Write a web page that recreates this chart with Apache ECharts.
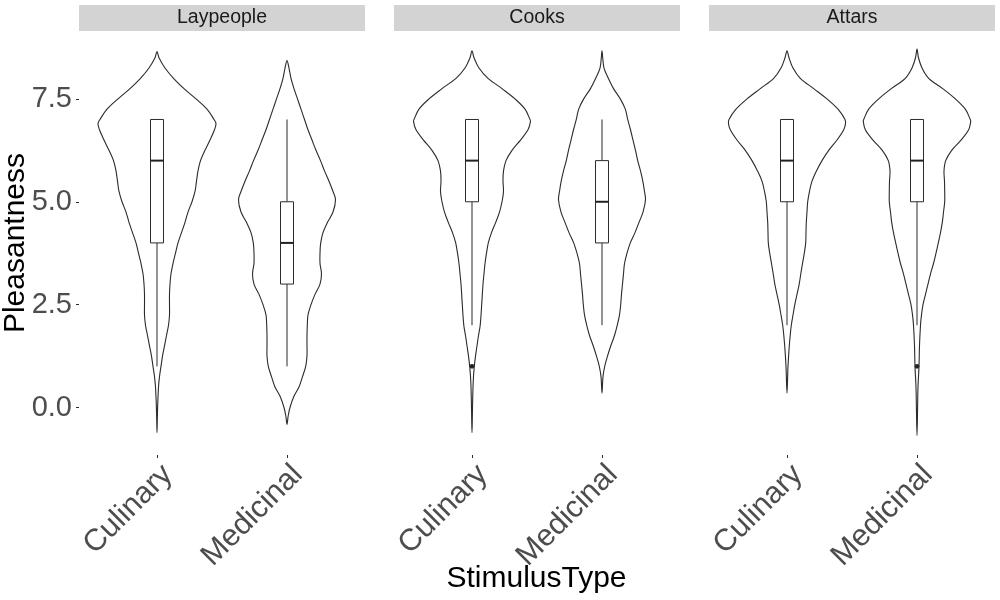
<!DOCTYPE html>
<html>
<head>
<meta charset="utf-8">
<script src="https://cdn.jsdelivr.net/npm/echarts@6/dist/echarts.min.js"></script>
<style>html,body{margin:0;padding:0;background:#fff}#chart{width:1000px;height:600px}</style>
</head>
<body>
<div id="chart"></div>
<script>
// ---------------- data ----------------
const panels = ['Laypeople', 'Cooks', 'Attars'];
const categories = ['Culinary', 'Medicinal'];
const yTicks = [0, 2.5, 5, 7.5];
const xTitle = 'StimulusType';
const yTitle = 'Pleasantness';

// violin outlines: [Pleasantness, relative density] (top to bottom)
const layCulinaryDensity = [[8.65,0],[8.5,2],[8.25,8],[8.0,16.5],[7.75,27],[7.5,39],[7.25,50],[7.0,57],[6.9,59],[6.75,57.5],[6.5,53],[6.25,48],[6.0,43.5],[5.75,41],[5.5,39.5],[5.25,38],[5.0,35],[4.75,31],[4.5,28],[4.25,24.5],[4.0,21],[3.75,18.5],[3.5,16],[3.25,14],[3.0,13],[2.75,12.5],[2.5,12.5],[2.25,12.5],[2.0,11.5],[1.75,9.5],[1.5,7.5],[1.25,5.5],[1.0,4],[0.75,2.5],[0.5,1.5],[0.25,1],[0,0.6],[-0.3,0.3],[-0.61,0]];
const layMedicinalDensity = [[8.43,0],[8.25,2],[8.0,4],[7.75,7],[7.5,10.5],[7.25,14],[7.0,17.5],[6.75,21],[6.5,25],[6.25,29],[6.0,33.5],[5.75,37.5],[5.5,42],[5.25,46],[5.05,48.5],[4.75,46],[4.5,40.5],[4.25,36],[4.0,33.7],[3.75,33],[3.5,33],[3.25,34.5],[3.0,33],[2.75,28],[2.5,24],[2.25,21],[2.0,20.3],[1.75,20],[1.5,20],[1.25,20],[1.0,18.7],[0.75,15.5],[0.5,12],[0.25,6.5],[0.0,3],[-0.2,1.2],[-0.41,0]];
const cooksCulinaryDensity = [[8.67,0],[8.5,2],[8.25,7],[8.0,16],[7.75,30],[7.5,43],[7.25,53],[7.0,58],[6.95,58.5],[6.75,56],[6.5,48.5],[6.25,40],[6.0,34],[5.75,31.5],[5.5,31],[5.25,31.5],[5.0,30],[4.75,27.5],[4.5,23.7],[4.25,19.5],[4.0,16.3],[3.75,14.5],[3.5,13],[3.25,12],[3.0,11],[2.5,9.7],[2.0,8.2],[1.75,6.5],[1.5,5],[1.25,3.5],[1.0,2.3],[0.75,1.5],[0.5,1],[0,0.5],[-0.3,0.3],[-0.61,0]];
const cooksMedicinalDensity = [[8.67,0],[8.5,0.7],[8.25,2],[8.0,6.3],[7.75,11.5],[7.5,18.3],[7.25,23.3],[7.0,25.7],[6.75,28.5],[6.5,31],[6.25,33.5],[6.0,35.7],[5.75,38.5],[5.5,40.8],[5.25,42.5],[5.05,43.5],[4.75,41],[4.5,37],[4.25,33],[4.0,28.3],[3.75,25],[3.5,22.5],[3.25,21.5],[3.0,20.5],[2.75,19.5],[2.5,18.7],[2.25,17.5],[2.0,15.3],[1.75,12.5],[1.5,8.8],[1.25,5.5],[1.0,2.7],[0.75,1],[0.35,0]];
const attarsCulinaryDensity = [[8.67,0],[8.5,2],[8.25,6],[8.0,13.3],[7.75,26.7],[7.5,40],[7.25,51],[7.0,58],[6.9,58.5],[6.75,56.7],[6.5,50],[6.25,41.7],[6.0,35],[5.75,29.5],[5.5,25],[5.25,22.5],[5.0,20.7],[4.75,20],[4.5,19.3],[4.25,19],[4.0,18.7],[3.75,17.3],[3.5,15.5],[3.25,13.8],[3.0,12.2],[2.75,10],[2.5,7.8],[2.25,6],[2.0,4.3],[1.75,3.2],[1.5,2.3],[1.0,1],[0.35,0]];
const attarsMedicinalDensity = [[8.71,0],[8.5,1.5],[8.25,5],[8.0,11.7],[7.75,25.7],[7.5,38.3],[7.25,48.3],[7.0,53.3],[6.95,53.7],[6.75,51.7],[6.5,44],[6.25,34.7],[6.0,28.7],[5.75,27],[5.5,27.5],[5.25,27.7],[5.0,27.7],[4.75,26.5],[4.5,25.3],[4.25,23.5],[4.0,21.3],[3.75,19],[3.5,16.5],[3.25,13.5],[3.0,11],[2.75,8.5],[2.5,6],[2.25,4.5],[2.0,3.5],[1.5,2.5],[1.0,2],[0.5,1],[0.0,0.6],[-0.68,0]];

// boxplot stats: [lower whisker, Q1, median, Q3, upper whisker]
const layCulinaryBox = [1, 4, 6, 7, 7];
const layMedicinalBox = [1, 3, 4, 5, 7];
const cooksCulinaryBox = [2, 5, 6, 7, 7];
const cooksMedicinalBox = [2, 4, 5, 6, 7];
const attarsCulinaryBox = [2, 5, 6, 7, 7];
const attarsMedicinalBox = [2, 5, 6, 7, 7];

const layCulinaryOutliers = [];
const layMedicinalOutliers = [];
const cooksCulinaryOutliers = [1];
const cooksMedicinalOutliers = [];
const attarsCulinaryOutliers = [];
const attarsMedicinalOutliers = [1];

// ---------------- assembly ----------------
const violins = [
  [layCulinaryDensity, layMedicinalDensity],
  [cooksCulinaryDensity, cooksMedicinalDensity],
  [attarsCulinaryDensity, attarsMedicinalDensity]
];
const boxes = [
  [layCulinaryBox, layMedicinalBox],
  [cooksCulinaryBox, cooksMedicinalBox],
  [attarsCulinaryBox, attarsMedicinalBox]
];
const outliers = [
  [layCulinaryOutliers, layMedicinalOutliers],
  [cooksCulinaryOutliers, cooksMedicinalOutliers],
  [attarsCulinaryOutliers, attarsMedicinalOutliers]
];

const FONT = '"Liberation Sans", Arial, Helvetica, sans-serif';
const LINE = '#2b2b2b';
const DENSITY_PER_BAND = 130; // relative density units per category band
const BOX_WIDTH = 0.1;        // fraction of band

const panelLeft = [79, 394, 709];
const panelWidth = 286;
const gridInset = 13;
const gridTop = 31, gridHeight = 424;

function renderItem(params, api) {
  const cat = api.value(0);
  const p = api.value(1);
  const band = api.size([1, 0])[0];
  const s = band / DENSITY_PER_BAND;
  const cx = api.coord([cat, 0])[0];
  const dens = violins[p][cat];
  const right = dens.map(([y, d]) => [cx + d * s, api.coord([cat, y])[1]]);
  const left = dens.slice(1, -1).reverse().map(([y, d]) => [cx - d * s, api.coord([cat, y])[1]]);
  const children = [];
  children.push({
    type: 'polygon',
    shape: { points: right.concat(left), smooth: 0.35 },
    style: { fill: '#ffffff', stroke: LINE, lineWidth: 1.1 }
  });
  const b = boxes[p][cat];
  const py = v => api.coord([cat, v])[1];
  const hw = band * BOX_WIDTH / 2;
  children.push({ type: 'line', shape: { x1: cx, y1: py(b[3]), x2: cx, y2: py(b[4]) }, style: { stroke: LINE, lineWidth: 1 } });
  children.push({ type: 'line', shape: { x1: cx, y1: py(b[1]), x2: cx, y2: py(b[0]) }, style: { stroke: LINE, lineWidth: 1 } });
  children.push({ type: 'rect', shape: { x: cx - hw, y: py(b[3]), width: hw * 2, height: py(b[1]) - py(b[3]) }, style: { fill: '#ffffff', stroke: LINE, lineWidth: 1 } });
  children.push({ type: 'line', shape: { x1: cx - hw, y1: py(b[2]), x2: cx + hw, y2: py(b[2]) }, style: { stroke: '#222', lineWidth: 2 } });
  outliers[p][cat].forEach(v => {
    children.push({ type: 'circle', shape: { cx: cx, cy: py(v), r: 2.3 }, style: { fill: '#222', stroke: null } });
  });
  return { type: 'group', children };
}

const option = {
  animation: false,
  backgroundColor: '#ffffff',
  grid: panels.map((_, i) => ({ left: panelLeft[i] + gridInset, top: gridTop, width: panelWidth - 2 * gridInset, height: gridHeight })),
  xAxis: panels.map((_, i) => ({
    type: 'category', gridIndex: i, data: categories,
    axisLine: { show: false, onZero: false },
    axisTick: { show: true, alignWithLabel: true, length: 3, lineStyle: { color: LINE } },
    axisLabel: { rotate: 45, align: 'right', verticalAlign: 'top', margin: 4, fontSize: 30.5, fontFamily: FONT, color: '#4d4d4d' },
    splitLine: { show: false }
  })),
  yAxis: panels.map((_, i) => ({
    type: 'value', gridIndex: i, min: -1.154, max: 9.15,
    offset: gridInset,
    axisLine: { show: false },
    splitLine: { show: false },
    axisTick: { show: i === 0, length: 3, customValues: yTicks, lineStyle: { color: LINE } },
    axisLabel: { show: i === 0, customValues: yTicks, formatter: v => Number(v).toFixed(1), margin: 7, fontSize: 29, fontFamily: FONT, color: '#4d4d4d' }
  })),
  series: panels.map((_, i) => ({
    type: 'custom', xAxisIndex: i, yAxisIndex: i,
    renderItem: renderItem,
    data: categories.map((_, c) => [c, i]),
    silent: true
  })),
  graphic: [
    ...panels.map((name, i) => ({
      type: 'rect', shape: { x: panelLeft[i], y: 5, width: panelWidth, height: 26 },
      style: { fill: '#d3d3d3' }, silent: true
    })),
    ...panels.map((name, i) => ({
      type: 'text', x: panelLeft[i] + panelWidth / 2, y: 18,
      style: { text: name, fontSize: 19.5, fontFamily: FONT, fill: '#1a1a1a', align: 'center', verticalAlign: 'middle' }, silent: true
    })),
    {
      type: 'text', x: 536.5, y: 579,
      style: { text: xTitle, fontSize: 30, fontFamily: FONT, fill: '#000000', align: 'center', verticalAlign: 'middle' }, silent: true
    },
    {
      type: 'text', x: 16, y: 243, rotation: Math.PI / 2,
      style: { text: yTitle, fontSize: 30, fontFamily: FONT, fill: '#000000', align: 'center', verticalAlign: 'middle' }, silent: true
    }
  ]
};

const chart = echarts.init(document.getElementById('chart'), null, { renderer: 'canvas' });
chart.setOption(option);
</script>
</body>
</html>
